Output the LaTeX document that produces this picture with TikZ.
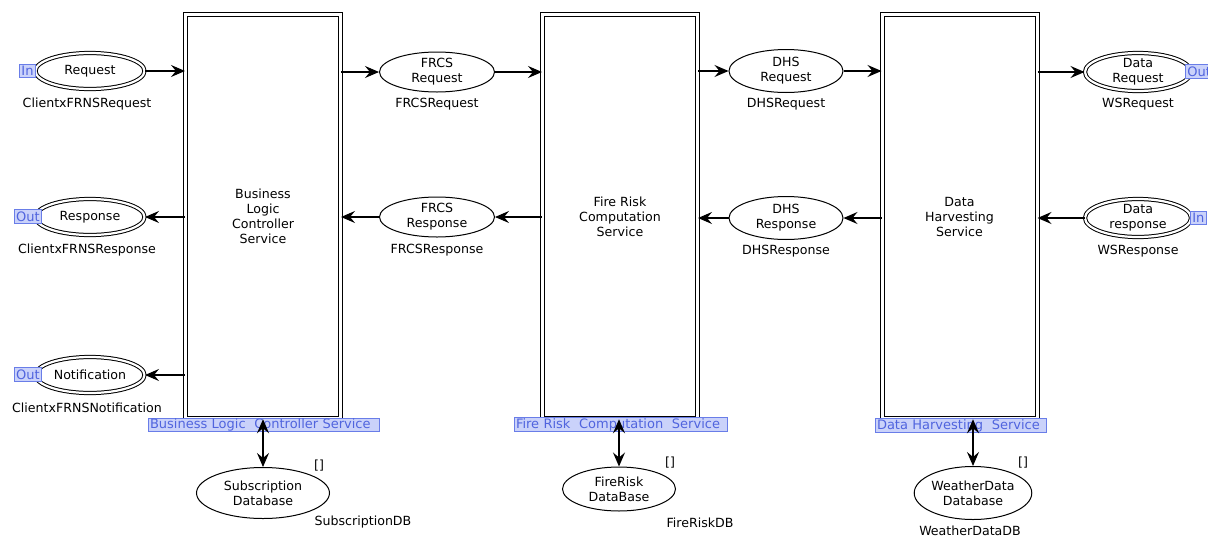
\documentclass[tikz,border=0pt]{standalone}
\usepackage{fontspec}
\setmainfont{DejaVu Sans}
\usetikzlibrary{arrows.meta,shapes.geometric}
\definecolor{tagfill}{RGB}{202,210,250}
\definecolor{tagdraw}{RGB}{105,125,232}
\definecolor{tagtext}{RGB}{80,100,222}
\tikzset{
  base/.style={font=\fontsize{12.6}{15}\selectfont, align=center, inner sep=0pt},
  trans/.style={base, draw=black, line width=1pt, double=white, double distance=3pt, minimum width=155pt, minimum height=404pt},
  place/.style={base, ellipse, draw=black, line width=1pt},
  ioplace/.style={base, ellipse, draw=black, line width=1pt, double=white, double distance=2.2pt},
  tag/.style={font=\fontsize{13}{15}\selectfont, text=tagtext, fill=tagfill, draw=tagdraw, line width=0.8pt, inner xsep=2pt, inner ysep=0.5pt, minimum height=13.5pt, anchor=center},
  lbl/.style={font=\fontsize{12.6}{15}\selectfont, inner sep=0pt},
  tip/.tip={Stealth[length=14pt,width=12pt,inset=5pt]},
  arr/.style={-tip, line width=1.1pt},
  darr/.style={tip-tip, line width=1.3pt},
}
\begin{document}
\begin{tikzpicture}[x=1pt,y=-1pt]
\useasboundingbox (0,0) rectangle (1208,536);
% transitions
\node[trans] (blcs) at (263,216.75) {Business\\Logic\\Controller\\Service};
\node[trans] (frcs) at (620,216.75) {Fire Risk\\Computation\\Service};
\node[trans] (dhs) at (959.5,216.75) {Data\\Harvesting\\Service};
% io places
\node[ioplace, minimum width=109pt, minimum height=36pt] (req) at (90,71) {Request};
\node[ioplace, minimum width=109pt, minimum height=36pt] (resp) at (90,217) {Response};
\node[ioplace, minimum width=109pt, minimum height=36pt] (notif) at (90,375) {Notification};
\node[ioplace, minimum width=106pt, minimum height=38pt] (dreq) at (1138,72) {Data\\Request};
\node[ioplace, minimum width=106pt, minimum height=38pt] (dresp) at (1138,218) {Data\\response};
% places
\node[place, minimum width=115pt, minimum height=40pt] (frq) at (437,72) {FRCS\\Request};
\node[place, minimum width=115pt, minimum height=40pt] (frs) at (437,217) {FRCS\\Response};
\node[place, minimum width=114pt, minimum height=43pt] (dhq) at (786,71) {DHS\\Request};
\node[place, minimum width=114pt, minimum height=43pt] (dhr) at (786,218) {DHS\\Response};
\node[place, minimum width=133pt, minimum height=51pt] (sdb) at (263,493) {Subscription\\Database};
\node[place, minimum width=113pt, minimum height=44pt] (fdb) at (619,489) {FireRisk\\DataBase};
\node[place, minimum width=117pt, minimum height=53pt] (wdb) at (973,493) {WeatherData\\Database};
% place labels
\node[lbl] (l1) at (87,104) {ClientxFRNSRequest};
\node[lbl] (l2) at (87,250) {ClientxFRNSResponse};
\node[lbl] (l3) at (87,408) {ClientxFRNSNotification};
\node[lbl] (l4) at (437,104) {FRCSRequest};
\node[lbl] (l5) at (437,250) {FRCSResponse};
\node[lbl] (l6) at (786,104) {DHSRequest};
\node[lbl] (l7) at (786,251) {DHSResponse};
\node[lbl] (l8) at (1138,104) {WSRequest};
\node[lbl] (l9) at (1138,251) {WSResponse};
\node[lbl] (l10) at (363,522) {SubscriptionDB};
\node[lbl] (l11) at (700,523) {FireRiskDB};
\node[lbl] (l12) at (970,531) {WeatherDataDB};
\node[lbl] (m1) at (319,466) {[]};
\node[lbl] (m2) at (670,463) {[]};
\node[lbl] (m3) at (1023,463) {[]};
% connectors
\draw[arr] (req.east) -- (blcs.west |- req.east);
\draw[arr] (blcs.west |- resp.east) -- (resp.east);
\draw[arr] (blcs.west |- notif.east) -- (notif.east);
\draw[arr] (blcs.east |- frq.west) -- (frq.west);
\draw[arr] (frq.east) -- (frcs.west |- frq.east);
\draw[arr] (frcs.west |- frs.east) -- (frs.east);
\draw[arr] (frs.west) -- (blcs.east |- frs.west);
\draw[arr] (frcs.east |- dhq.west) -- (dhq.west);
\draw[arr] (dhq.east) -- (dhs.west |- dhq.east);
\draw[arr] (dhs.west |- dhr.east) -- (dhr.east);
\draw[arr] (dhr.west) -- (frcs.east |- dhr.west);
\draw[arr] (dhs.east |- dreq.west) -- (dreq.west);
\draw[arr] (dresp.west) -- (dhs.east |- dresp.west);
% port tags
\node[tag] (t1) at (27.5,71) {In};
\node[tag] (t2) at (28,216.5) {Out};
\node[tag] (t3) at (28,374.5) {Out};
\node[tag, anchor=west] (t4) at (1185,71.5) {Out};
\node[tag, anchor=west] (t5) at (1190,218) {In};
% substitution tags
\node[tag, minimum width=231pt, text width=227pt, align=left] (s1) at (263.5,425) {Business Logic\ \ Controller Service};
\node[tag, minimum width=213pt, text width=209pt, align=left] (s2) at (620.5,424.5) {Fire Risk\ \ Computation\ \ Service};
\node[tag, minimum width=171pt, text width=167pt, align=left] (s3) at (960.5,425.5) {Data Harvesting\ \ Service};
\draw[darr] (blcs.south -| sdb.north) -- (sdb.north);
\draw[darr] (frcs.south -| fdb.north) -- (fdb.north);
\draw[darr] (dhs.south -| wdb.north) -- (wdb.north);
\end{tikzpicture}
\end{document}
